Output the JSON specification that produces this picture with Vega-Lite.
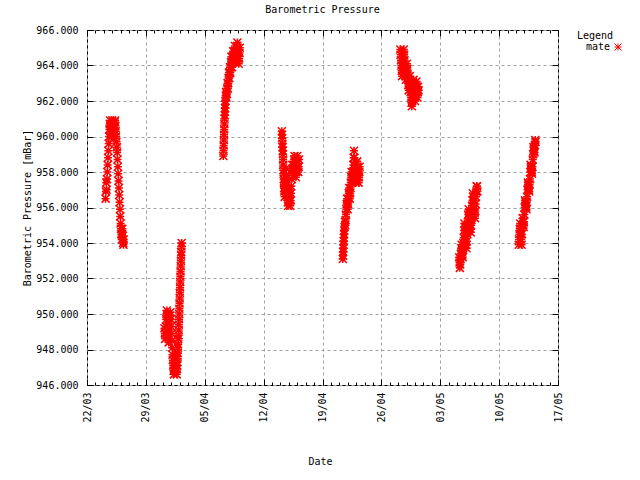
{
  "$schema": "https://vega.github.io/schema/vega-lite/v6.json",
  "width": 471,
  "height": 355,
  "autosize": {"type": "none"},
  "padding": {"left": 87, "top": 30, "right": 82, "bottom": 95},
  "title": {"text": "Barometric Pressure", "font": "DejaVu Sans Mono", "fontSize": 10, "fontWeight": "normal", "color": "black", "offset": 10, "anchor": "middle"},
  "config": {
    "view": {"stroke": "black", "strokeWidth": 1},
    "axis": {"labelFont": "DejaVu Sans Mono", "labelFontSize": 10, "labelColor": "black", "titleFont": "DejaVu Sans Mono", "titleFontSize": 10, "titleFontWeight": "normal", "titleColor": "black", "tickColor": "black", "domain": false}
  },
  "data": {"values": [
    {"date": "2009-03-24T05:00", "pressure": 956.5},
    {"date": "2009-03-24T06:00", "pressure": 956.9},
    {"date": "2009-03-24T07:00", "pressure": 957.4},
    {"date": "2009-03-24T08:00", "pressure": 957.0},
    {"date": "2009-03-24T09:00", "pressure": 957.6},
    {"date": "2009-03-24T10:00", "pressure": 958.0},
    {"date": "2009-03-24T11:00", "pressure": 958.4},
    {"date": "2009-03-24T12:00", "pressure": 958.8},
    {"date": "2009-03-24T13:00", "pressure": 959.2},
    {"date": "2009-03-24T14:00", "pressure": 959.6},
    {"date": "2009-03-24T15:00", "pressure": 960.0},
    {"date": "2009-03-24T16:00", "pressure": 960.4},
    {"date": "2009-03-24T17:00", "pressure": 960.7},
    {"date": "2009-03-24T18:00", "pressure": 960.9},
    {"date": "2009-03-24T19:00", "pressure": 960.6},
    {"date": "2009-03-24T20:00", "pressure": 960.3},
    {"date": "2009-03-24T21:00", "pressure": 960.0},
    {"date": "2009-03-24T22:00", "pressure": 960.3},
    {"date": "2009-03-24T23:00", "pressure": 960.6},
    {"date": "2009-03-25T00:00", "pressure": 960.9},
    {"date": "2009-03-25T01:00", "pressure": 960.7},
    {"date": "2009-03-25T02:00", "pressure": 960.4},
    {"date": "2009-03-25T03:00", "pressure": 960.1},
    {"date": "2009-03-25T04:00", "pressure": 959.9},
    {"date": "2009-03-25T05:00", "pressure": 960.2},
    {"date": "2009-03-25T06:00", "pressure": 960.5},
    {"date": "2009-03-25T07:00", "pressure": 960.8},
    {"date": "2009-03-25T08:00", "pressure": 960.9},
    {"date": "2009-03-25T09:00", "pressure": 960.6},
    {"date": "2009-03-25T10:00", "pressure": 960.3},
    {"date": "2009-03-25T11:00", "pressure": 960.0},
    {"date": "2009-03-25T12:00", "pressure": 959.7},
    {"date": "2009-03-25T13:00", "pressure": 959.4},
    {"date": "2009-03-25T14:00", "pressure": 959.1},
    {"date": "2009-03-25T15:00", "pressure": 958.7},
    {"date": "2009-03-25T16:00", "pressure": 958.3},
    {"date": "2009-03-25T17:00", "pressure": 957.9},
    {"date": "2009-03-25T18:00", "pressure": 957.5},
    {"date": "2009-03-25T19:00", "pressure": 957.1},
    {"date": "2009-03-25T20:00", "pressure": 956.7},
    {"date": "2009-03-25T21:00", "pressure": 956.3},
    {"date": "2009-03-25T22:00", "pressure": 955.9},
    {"date": "2009-03-25T23:00", "pressure": 955.5},
    {"date": "2009-03-26T00:00", "pressure": 955.1},
    {"date": "2009-03-26T01:00", "pressure": 954.8},
    {"date": "2009-03-26T02:00", "pressure": 954.5},
    {"date": "2009-03-26T03:00", "pressure": 954.2},
    {"date": "2009-03-26T04:00", "pressure": 954.5},
    {"date": "2009-03-26T05:00", "pressure": 954.8},
    {"date": "2009-03-26T06:00", "pressure": 954.4},
    {"date": "2009-03-26T07:00", "pressure": 954.0},
    {"date": "2009-03-26T08:00", "pressure": 953.9},
    {"date": "2009-03-26T09:00", "pressure": 954.2},

    {"date": "2009-03-31T05:00", "pressure": 949.2},
    {"date": "2009-03-31T06:00", "pressure": 948.9},
    {"date": "2009-03-31T07:00", "pressure": 948.6},
    {"date": "2009-03-31T08:00", "pressure": 948.9},
    {"date": "2009-03-31T09:00", "pressure": 949.3},
    {"date": "2009-03-31T10:00", "pressure": 949.7},
    {"date": "2009-03-31T11:00", "pressure": 950.0},
    {"date": "2009-03-31T12:00", "pressure": 950.2},
    {"date": "2009-03-31T13:00", "pressure": 949.9},
    {"date": "2009-03-31T14:00", "pressure": 949.5},
    {"date": "2009-03-31T15:00", "pressure": 949.1},
    {"date": "2009-03-31T16:00", "pressure": 948.7},
    {"date": "2009-03-31T17:00", "pressure": 948.4},
    {"date": "2009-03-31T18:00", "pressure": 948.7},
    {"date": "2009-03-31T19:00", "pressure": 949.1},
    {"date": "2009-03-31T20:00", "pressure": 949.5},
    {"date": "2009-03-31T21:00", "pressure": 949.9},
    {"date": "2009-03-31T22:00", "pressure": 950.1},
    {"date": "2009-03-31T23:00", "pressure": 949.7},
    {"date": "2009-04-01T00:00", "pressure": 949.3},
    {"date": "2009-04-01T01:00", "pressure": 948.9},
    {"date": "2009-04-01T02:00", "pressure": 948.5},
    {"date": "2009-04-01T03:00", "pressure": 948.1},
    {"date": "2009-04-01T04:00", "pressure": 947.7},
    {"date": "2009-04-01T05:00", "pressure": 947.4},
    {"date": "2009-04-01T06:00", "pressure": 947.1},
    {"date": "2009-04-01T07:00", "pressure": 946.8},
    {"date": "2009-04-01T08:00", "pressure": 946.6},
    {"date": "2009-04-01T09:00", "pressure": 946.9},
    {"date": "2009-04-01T10:00", "pressure": 947.2},
    {"date": "2009-04-01T11:00", "pressure": 947.5},
    {"date": "2009-04-01T12:00", "pressure": 947.8},
    {"date": "2009-04-01T13:00", "pressure": 947.5},
    {"date": "2009-04-01T14:00", "pressure": 947.2},
    {"date": "2009-04-01T15:00", "pressure": 946.9},
    {"date": "2009-04-01T16:00", "pressure": 946.6},
    {"date": "2009-04-01T17:00", "pressure": 946.9},
    {"date": "2009-04-01T17:30", "pressure": 947.1},
    {"date": "2009-04-01T18:00", "pressure": 947.3},
    {"date": "2009-04-01T18:30", "pressure": 947.6},
    {"date": "2009-04-01T19:00", "pressure": 947.8},
    {"date": "2009-04-01T19:30", "pressure": 948.1},
    {"date": "2009-04-01T20:00", "pressure": 948.3},
    {"date": "2009-04-01T20:30", "pressure": 948.6},
    {"date": "2009-04-01T21:00", "pressure": 948.8},
    {"date": "2009-04-01T21:30", "pressure": 949.1},
    {"date": "2009-04-01T22:00", "pressure": 949.4},
    {"date": "2009-04-01T22:30", "pressure": 949.7},
    {"date": "2009-04-01T23:00", "pressure": 950.0},
    {"date": "2009-04-01T23:30", "pressure": 950.3},
    {"date": "2009-04-02T00:00", "pressure": 950.6},
    {"date": "2009-04-02T00:30", "pressure": 950.9},
    {"date": "2009-04-02T01:00", "pressure": 951.2},
    {"date": "2009-04-02T01:30", "pressure": 951.5},
    {"date": "2009-04-02T02:00", "pressure": 951.8},
    {"date": "2009-04-02T02:30", "pressure": 952.1},
    {"date": "2009-04-02T03:00", "pressure": 952.4},
    {"date": "2009-04-02T03:30", "pressure": 952.7},
    {"date": "2009-04-02T04:00", "pressure": 953.0},
    {"date": "2009-04-02T04:30", "pressure": 953.3},
    {"date": "2009-04-02T05:00", "pressure": 953.5},
    {"date": "2009-04-02T05:30", "pressure": 953.8},
    {"date": "2009-04-02T06:00", "pressure": 954.0},

    {"date": "2009-04-07T05:00", "pressure": 958.9},
    {"date": "2009-04-07T05:30", "pressure": 959.2},
    {"date": "2009-04-07T06:00", "pressure": 959.5},
    {"date": "2009-04-07T06:30", "pressure": 959.8},
    {"date": "2009-04-07T07:00", "pressure": 960.1},
    {"date": "2009-04-07T07:30", "pressure": 960.4},
    {"date": "2009-04-07T08:00", "pressure": 960.7},
    {"date": "2009-04-07T08:30", "pressure": 961.0},
    {"date": "2009-04-07T09:00", "pressure": 961.2},
    {"date": "2009-04-07T09:30", "pressure": 961.4},
    {"date": "2009-04-07T10:00", "pressure": 961.6},
    {"date": "2009-04-07T10:30", "pressure": 961.8},
    {"date": "2009-04-07T11:00", "pressure": 962.0},
    {"date": "2009-04-07T12:00", "pressure": 962.3},
    {"date": "2009-04-07T13:00", "pressure": 962.5},
    {"date": "2009-04-07T14:00", "pressure": 962.2},
    {"date": "2009-04-07T15:00", "pressure": 962.4},
    {"date": "2009-04-07T16:00", "pressure": 962.7},
    {"date": "2009-04-07T17:00", "pressure": 963.0},
    {"date": "2009-04-07T18:00", "pressure": 962.7},
    {"date": "2009-04-07T19:00", "pressure": 963.0},
    {"date": "2009-04-07T20:00", "pressure": 963.3},
    {"date": "2009-04-07T21:00", "pressure": 963.6},
    {"date": "2009-04-07T22:00", "pressure": 963.3},
    {"date": "2009-04-07T23:00", "pressure": 963.6},
    {"date": "2009-04-08T00:00", "pressure": 963.9},
    {"date": "2009-04-08T01:00", "pressure": 963.6},
    {"date": "2009-04-08T02:00", "pressure": 963.9},
    {"date": "2009-04-08T03:00", "pressure": 964.2},
    {"date": "2009-04-08T04:00", "pressure": 964.5},
    {"date": "2009-04-08T05:00", "pressure": 964.2},
    {"date": "2009-04-08T06:00", "pressure": 963.9},
    {"date": "2009-04-08T07:00", "pressure": 964.2},
    {"date": "2009-04-08T08:00", "pressure": 964.5},
    {"date": "2009-04-08T09:00", "pressure": 964.8},
    {"date": "2009-04-08T10:00", "pressure": 964.5},
    {"date": "2009-04-08T11:00", "pressure": 964.2},
    {"date": "2009-04-08T12:00", "pressure": 964.5},
    {"date": "2009-04-08T13:00", "pressure": 964.8},
    {"date": "2009-04-08T14:00", "pressure": 965.1},
    {"date": "2009-04-08T15:00", "pressure": 964.8},
    {"date": "2009-04-08T16:00", "pressure": 964.5},
    {"date": "2009-04-08T17:00", "pressure": 964.2},
    {"date": "2009-04-08T18:00", "pressure": 964.5},
    {"date": "2009-04-08T19:00", "pressure": 964.8},
    {"date": "2009-04-08T20:00", "pressure": 965.1},
    {"date": "2009-04-08T21:00", "pressure": 965.3},
    {"date": "2009-04-08T22:00", "pressure": 965.0},
    {"date": "2009-04-08T23:00", "pressure": 964.7},
    {"date": "2009-04-09T00:00", "pressure": 964.4},
    {"date": "2009-04-09T01:00", "pressure": 964.1},
    {"date": "2009-04-09T02:00", "pressure": 964.4},
    {"date": "2009-04-09T03:00", "pressure": 964.7},
    {"date": "2009-04-09T04:00", "pressure": 965.0},

    {"date": "2009-04-14T04:00", "pressure": 960.3},
    {"date": "2009-04-14T04:30", "pressure": 960.1},
    {"date": "2009-04-14T05:00", "pressure": 959.9},
    {"date": "2009-04-14T05:30", "pressure": 959.6},
    {"date": "2009-04-14T06:00", "pressure": 959.4},
    {"date": "2009-04-14T06:30", "pressure": 959.2},
    {"date": "2009-04-14T07:00", "pressure": 959.0},
    {"date": "2009-04-14T07:30", "pressure": 958.7},
    {"date": "2009-04-14T08:00", "pressure": 958.4},
    {"date": "2009-04-14T08:30", "pressure": 958.1},
    {"date": "2009-04-14T09:00", "pressure": 957.9},
    {"date": "2009-04-14T09:30", "pressure": 957.6},
    {"date": "2009-04-14T10:00", "pressure": 957.4},
    {"date": "2009-04-14T10:30", "pressure": 957.1},
    {"date": "2009-04-14T11:00", "pressure": 956.9},
    {"date": "2009-04-14T12:00", "pressure": 956.6},
    {"date": "2009-04-14T13:00", "pressure": 957.0},
    {"date": "2009-04-14T14:00", "pressure": 957.4},
    {"date": "2009-04-14T15:00", "pressure": 957.8},
    {"date": "2009-04-14T16:00", "pressure": 958.2},
    {"date": "2009-04-14T17:00", "pressure": 957.8},
    {"date": "2009-04-14T18:00", "pressure": 957.4},
    {"date": "2009-04-14T19:00", "pressure": 957.0},
    {"date": "2009-04-14T20:00", "pressure": 956.6},
    {"date": "2009-04-14T21:00", "pressure": 956.3},
    {"date": "2009-04-14T22:00", "pressure": 956.1},
    {"date": "2009-04-14T23:00", "pressure": 956.4},
    {"date": "2009-04-15T00:00", "pressure": 956.7},
    {"date": "2009-04-15T01:00", "pressure": 957.0},
    {"date": "2009-04-15T02:00", "pressure": 956.7},
    {"date": "2009-04-15T03:00", "pressure": 956.4},
    {"date": "2009-04-15T04:00", "pressure": 956.1},
    {"date": "2009-04-15T05:00", "pressure": 956.4},
    {"date": "2009-04-15T06:00", "pressure": 956.8},
    {"date": "2009-04-15T07:00", "pressure": 957.2},
    {"date": "2009-04-15T08:00", "pressure": 957.6},
    {"date": "2009-04-15T09:00", "pressure": 958.0},
    {"date": "2009-04-15T10:00", "pressure": 958.4},
    {"date": "2009-04-15T11:00", "pressure": 958.1},
    {"date": "2009-04-15T12:00", "pressure": 957.8},
    {"date": "2009-04-15T13:00", "pressure": 958.1},
    {"date": "2009-04-15T14:00", "pressure": 958.4},
    {"date": "2009-04-15T15:00", "pressure": 958.7},
    {"date": "2009-04-15T16:00", "pressure": 958.9},
    {"date": "2009-04-15T17:00", "pressure": 958.6},
    {"date": "2009-04-15T18:00", "pressure": 958.3},
    {"date": "2009-04-15T19:00", "pressure": 958.0},
    {"date": "2009-04-15T20:00", "pressure": 957.7},
    {"date": "2009-04-15T21:00", "pressure": 958.0},
    {"date": "2009-04-15T22:00", "pressure": 958.3},
    {"date": "2009-04-15T23:00", "pressure": 958.6},
    {"date": "2009-04-16T00:00", "pressure": 958.9},
    {"date": "2009-04-16T01:00", "pressure": 958.6},
    {"date": "2009-04-16T02:00", "pressure": 958.3},
    {"date": "2009-04-16T03:00", "pressure": 958.0},
    {"date": "2009-04-16T04:00", "pressure": 958.3},
    {"date": "2009-04-16T05:00", "pressure": 958.7},

    {"date": "2009-04-21T10:00", "pressure": 953.1},
    {"date": "2009-04-21T10:30", "pressure": 953.3},
    {"date": "2009-04-21T11:00", "pressure": 953.5},
    {"date": "2009-04-21T11:30", "pressure": 953.7},
    {"date": "2009-04-21T12:00", "pressure": 953.9},
    {"date": "2009-04-21T12:30", "pressure": 954.1},
    {"date": "2009-04-21T13:00", "pressure": 954.3},
    {"date": "2009-04-21T13:30", "pressure": 954.5},
    {"date": "2009-04-21T14:00", "pressure": 954.7},
    {"date": "2009-04-21T15:00", "pressure": 954.9},
    {"date": "2009-04-21T16:00", "pressure": 955.2},
    {"date": "2009-04-21T17:00", "pressure": 955.0},
    {"date": "2009-04-21T18:00", "pressure": 955.3},
    {"date": "2009-04-21T19:00", "pressure": 955.6},
    {"date": "2009-04-21T20:00", "pressure": 955.9},
    {"date": "2009-04-21T21:00", "pressure": 956.2},
    {"date": "2009-04-21T22:00", "pressure": 956.5},
    {"date": "2009-04-21T23:00", "pressure": 956.2},
    {"date": "2009-04-22T00:00", "pressure": 955.9},
    {"date": "2009-04-22T01:00", "pressure": 956.2},
    {"date": "2009-04-22T02:00", "pressure": 956.5},
    {"date": "2009-04-22T03:00", "pressure": 956.8},
    {"date": "2009-04-22T04:00", "pressure": 957.1},
    {"date": "2009-04-22T05:00", "pressure": 956.8},
    {"date": "2009-04-22T06:00", "pressure": 956.5},
    {"date": "2009-04-22T07:00", "pressure": 956.8},
    {"date": "2009-04-22T08:00", "pressure": 957.1},
    {"date": "2009-04-22T09:00", "pressure": 957.4},
    {"date": "2009-04-22T10:00", "pressure": 957.7},
    {"date": "2009-04-22T11:00", "pressure": 958.0},
    {"date": "2009-04-22T12:00", "pressure": 957.7},
    {"date": "2009-04-22T13:00", "pressure": 957.4},
    {"date": "2009-04-22T14:00", "pressure": 957.7},
    {"date": "2009-04-22T15:00", "pressure": 958.0},
    {"date": "2009-04-22T16:00", "pressure": 958.4},
    {"date": "2009-04-22T17:00", "pressure": 958.8},
    {"date": "2009-04-22T18:00", "pressure": 959.2},
    {"date": "2009-04-22T19:00", "pressure": 958.8},
    {"date": "2009-04-22T20:00", "pressure": 958.4},
    {"date": "2009-04-22T21:00", "pressure": 958.0},
    {"date": "2009-04-22T22:00", "pressure": 957.6},
    {"date": "2009-04-22T23:00", "pressure": 957.4},
    {"date": "2009-04-23T00:00", "pressure": 957.7},
    {"date": "2009-04-23T01:00", "pressure": 958.0},
    {"date": "2009-04-23T02:00", "pressure": 958.3},
    {"date": "2009-04-23T03:00", "pressure": 958.6},
    {"date": "2009-04-23T04:00", "pressure": 958.3},
    {"date": "2009-04-23T05:00", "pressure": 958.0},
    {"date": "2009-04-23T06:00", "pressure": 957.7},
    {"date": "2009-04-23T07:00", "pressure": 957.4},
    {"date": "2009-04-23T08:00", "pressure": 957.7},
    {"date": "2009-04-23T09:00", "pressure": 958.0},
    {"date": "2009-04-23T10:00", "pressure": 958.3},

    {"date": "2009-04-28T06:00", "pressure": 964.9},
    {"date": "2009-04-28T07:00", "pressure": 964.6},
    {"date": "2009-04-28T08:00", "pressure": 964.3},
    {"date": "2009-04-28T09:00", "pressure": 964.0},
    {"date": "2009-04-28T10:00", "pressure": 963.7},
    {"date": "2009-04-28T11:00", "pressure": 963.4},
    {"date": "2009-04-28T12:00", "pressure": 963.7},
    {"date": "2009-04-28T13:00", "pressure": 964.0},
    {"date": "2009-04-28T14:00", "pressure": 964.3},
    {"date": "2009-04-28T15:00", "pressure": 964.6},
    {"date": "2009-04-28T16:00", "pressure": 964.9},
    {"date": "2009-04-28T17:00", "pressure": 964.6},
    {"date": "2009-04-28T18:00", "pressure": 964.3},
    {"date": "2009-04-28T19:00", "pressure": 964.0},
    {"date": "2009-04-28T20:00", "pressure": 963.7},
    {"date": "2009-04-28T21:00", "pressure": 963.4},
    {"date": "2009-04-28T22:00", "pressure": 963.2},
    {"date": "2009-04-28T23:00", "pressure": 963.5},
    {"date": "2009-04-29T00:00", "pressure": 963.8},
    {"date": "2009-04-29T01:00", "pressure": 964.1},
    {"date": "2009-04-29T02:00", "pressure": 963.8},
    {"date": "2009-04-29T03:00", "pressure": 963.5},
    {"date": "2009-04-29T04:00", "pressure": 963.2},
    {"date": "2009-04-29T05:00", "pressure": 962.9},
    {"date": "2009-04-29T06:00", "pressure": 962.6},
    {"date": "2009-04-29T07:00", "pressure": 962.9},
    {"date": "2009-04-29T08:00", "pressure": 963.2},
    {"date": "2009-04-29T09:00", "pressure": 963.4},
    {"date": "2009-04-29T10:00", "pressure": 963.1},
    {"date": "2009-04-29T11:00", "pressure": 962.8},
    {"date": "2009-04-29T12:00", "pressure": 962.5},
    {"date": "2009-04-29T13:00", "pressure": 962.2},
    {"date": "2009-04-29T14:00", "pressure": 961.9},
    {"date": "2009-04-29T15:00", "pressure": 961.7},
    {"date": "2009-04-29T16:00", "pressure": 962.0},
    {"date": "2009-04-29T17:00", "pressure": 962.3},
    {"date": "2009-04-29T18:00", "pressure": 962.6},
    {"date": "2009-04-29T19:00", "pressure": 962.9},
    {"date": "2009-04-29T20:00", "pressure": 963.2},
    {"date": "2009-04-29T21:00", "pressure": 962.9},
    {"date": "2009-04-29T22:00", "pressure": 962.6},
    {"date": "2009-04-29T23:00", "pressure": 962.3},
    {"date": "2009-04-30T00:00", "pressure": 962.0},
    {"date": "2009-04-30T01:00", "pressure": 962.3},
    {"date": "2009-04-30T02:00", "pressure": 962.6},
    {"date": "2009-04-30T03:00", "pressure": 962.9},
    {"date": "2009-04-30T04:00", "pressure": 963.1},
    {"date": "2009-04-30T05:00", "pressure": 962.8},
    {"date": "2009-04-30T06:00", "pressure": 962.5},
    {"date": "2009-04-30T07:00", "pressure": 962.2},
    {"date": "2009-04-30T08:00", "pressure": 962.5},
    {"date": "2009-04-30T09:00", "pressure": 962.8},
    {"date": "2009-04-30T10:00", "pressure": 962.6},

    {"date": "2009-05-05T06:00", "pressure": 953.2},
    {"date": "2009-05-05T07:00", "pressure": 952.9},
    {"date": "2009-05-05T08:00", "pressure": 952.6},
    {"date": "2009-05-05T09:00", "pressure": 952.8},
    {"date": "2009-05-05T10:00", "pressure": 953.1},
    {"date": "2009-05-05T11:00", "pressure": 953.4},
    {"date": "2009-05-05T12:00", "pressure": 953.7},
    {"date": "2009-05-05T13:00", "pressure": 953.9},
    {"date": "2009-05-05T14:00", "pressure": 953.6},
    {"date": "2009-05-05T15:00", "pressure": 953.3},
    {"date": "2009-05-05T16:00", "pressure": 953.2},
    {"date": "2009-05-05T17:00", "pressure": 953.6},
    {"date": "2009-05-05T18:00", "pressure": 954.0},
    {"date": "2009-05-05T19:00", "pressure": 954.3},
    {"date": "2009-05-05T20:00", "pressure": 954.7},
    {"date": "2009-05-05T21:00", "pressure": 955.1},
    {"date": "2009-05-05T22:00", "pressure": 954.9},
    {"date": "2009-05-05T23:00", "pressure": 954.6},
    {"date": "2009-05-06T00:00", "pressure": 954.4},
    {"date": "2009-05-06T01:00", "pressure": 954.2},
    {"date": "2009-05-06T02:00", "pressure": 953.9},
    {"date": "2009-05-06T03:00", "pressure": 953.7},
    {"date": "2009-05-06T04:00", "pressure": 954.1},
    {"date": "2009-05-06T05:00", "pressure": 954.5},
    {"date": "2009-05-06T06:00", "pressure": 954.8},
    {"date": "2009-05-06T07:00", "pressure": 955.2},
    {"date": "2009-05-06T08:00", "pressure": 955.6},
    {"date": "2009-05-06T09:00", "pressure": 955.9},
    {"date": "2009-05-06T10:00", "pressure": 955.7},
    {"date": "2009-05-06T11:00", "pressure": 955.5},
    {"date": "2009-05-06T12:00", "pressure": 955.3},
    {"date": "2009-05-06T13:00", "pressure": 955.0},
    {"date": "2009-05-06T14:00", "pressure": 954.8},
    {"date": "2009-05-06T15:00", "pressure": 954.6},
    {"date": "2009-05-06T16:00", "pressure": 955.0},
    {"date": "2009-05-06T17:00", "pressure": 955.3},
    {"date": "2009-05-06T18:00", "pressure": 955.7},
    {"date": "2009-05-06T19:00", "pressure": 956.1},
    {"date": "2009-05-06T20:00", "pressure": 956.4},
    {"date": "2009-05-06T21:00", "pressure": 956.8},
    {"date": "2009-05-06T22:00", "pressure": 956.6},
    {"date": "2009-05-06T23:00", "pressure": 956.4},
    {"date": "2009-05-07T00:00", "pressure": 956.1},
    {"date": "2009-05-07T01:00", "pressure": 955.9},
    {"date": "2009-05-07T02:00", "pressure": 955.7},
    {"date": "2009-05-07T03:00", "pressure": 955.4},
    {"date": "2009-05-07T04:00", "pressure": 955.8},
    {"date": "2009-05-07T05:00", "pressure": 956.2},
    {"date": "2009-05-07T06:00", "pressure": 956.6},
    {"date": "2009-05-07T07:00", "pressure": 956.9},
    {"date": "2009-05-07T08:00", "pressure": 957.2},
    {"date": "2009-05-07T09:00", "pressure": 957.2},
    {"date": "2009-05-07T10:00", "pressure": 956.9},

    {"date": "2009-05-12T08:00", "pressure": 953.9},
    {"date": "2009-05-12T09:00", "pressure": 954.2},
    {"date": "2009-05-12T10:00", "pressure": 954.5},
    {"date": "2009-05-12T11:00", "pressure": 954.8},
    {"date": "2009-05-12T12:00", "pressure": 955.1},
    {"date": "2009-05-12T13:00", "pressure": 954.8},
    {"date": "2009-05-12T14:00", "pressure": 954.5},
    {"date": "2009-05-12T15:00", "pressure": 954.2},
    {"date": "2009-05-12T16:00", "pressure": 953.9},
    {"date": "2009-05-12T17:00", "pressure": 954.5},
    {"date": "2009-05-12T18:00", "pressure": 955.0},
    {"date": "2009-05-12T19:00", "pressure": 955.4},
    {"date": "2009-05-12T20:00", "pressure": 955.2},
    {"date": "2009-05-12T21:00", "pressure": 955.0},
    {"date": "2009-05-12T22:00", "pressure": 954.9},
    {"date": "2009-05-12T23:00", "pressure": 955.2},
    {"date": "2009-05-13T00:00", "pressure": 955.6},
    {"date": "2009-05-13T01:00", "pressure": 956.0},
    {"date": "2009-05-13T02:00", "pressure": 956.4},
    {"date": "2009-05-13T03:00", "pressure": 956.3},
    {"date": "2009-05-13T04:00", "pressure": 956.1},
    {"date": "2009-05-13T05:00", "pressure": 956.0},
    {"date": "2009-05-13T06:00", "pressure": 955.9},
    {"date": "2009-05-13T07:00", "pressure": 956.3},
    {"date": "2009-05-13T08:00", "pressure": 956.6},
    {"date": "2009-05-13T09:00", "pressure": 957.0},
    {"date": "2009-05-13T10:00", "pressure": 957.4},
    {"date": "2009-05-13T11:00", "pressure": 957.3},
    {"date": "2009-05-13T12:00", "pressure": 957.1},
    {"date": "2009-05-13T13:00", "pressure": 957.0},
    {"date": "2009-05-13T14:00", "pressure": 956.9},
    {"date": "2009-05-13T15:00", "pressure": 957.3},
    {"date": "2009-05-13T16:00", "pressure": 957.6},
    {"date": "2009-05-13T17:00", "pressure": 958.0},
    {"date": "2009-05-13T18:00", "pressure": 958.4},
    {"date": "2009-05-13T19:00", "pressure": 958.3},
    {"date": "2009-05-13T20:00", "pressure": 958.2},
    {"date": "2009-05-13T21:00", "pressure": 958.0},
    {"date": "2009-05-13T22:00", "pressure": 957.9},
    {"date": "2009-05-13T23:00", "pressure": 958.3},
    {"date": "2009-05-14T00:00", "pressure": 958.7},
    {"date": "2009-05-14T01:00", "pressure": 959.0},
    {"date": "2009-05-14T02:00", "pressure": 959.4},
    {"date": "2009-05-14T03:00", "pressure": 959.3},
    {"date": "2009-05-14T04:00", "pressure": 959.2},
    {"date": "2009-05-14T05:00", "pressure": 959.1},
    {"date": "2009-05-14T06:00", "pressure": 959.5},
    {"date": "2009-05-14T07:00", "pressure": 959.8},
    {"date": "2009-05-14T08:00", "pressure": 959.7}
  ]},
  "layer": [
    {
      "mark": {"type": "point", "shape": "M-1,0L1,0M0,-1L0,1M-1,-1L1,1M-1,1L1,-1", "size": 64, "filled": false, "strokeWidth": 1.5, "opacity": 1},
      "encoding": {
        "x": {"field": "date", "type": "temporal",
          "scale": {"domain": [{"year": 2009, "month": "mar", "date": 22}, {"year": 2009, "month": "may", "date": 17}], "nice": false},
          "axis": {"orient": "bottom", "format": "%d/%m", "labelAngle": 270, "tickCount": {"interval": "week"}, "grid": true, "gridColor": "#a0a0a0", "gridDash": [3, 3], "gridOpacity": 1, "tickSize": -6, "labelPadding": 13, "title": "Date", "titleX": 233, "titleY": 76, "titleBaseline": "middle", "titleAlign": "center"}},
        "y": {"field": "pressure", "type": "quantitative",
          "scale": {"domain": [946, 966], "nice": false, "zero": false},
          "axis": {"orient": "left", "values": [946, 948, 950, 952, 954, 956, 958, 960, 962, 964, 966], "format": ".3f", "grid": true, "gridColor": "#a0a0a0", "gridDash": [3, 3], "gridOpacity": 1, "tickSize": -6, "labelPadding": 15, "title": "Barometric Pressure [mBar]", "titleX": -60, "titleY": 177.5, "titleAngle": 270, "titleBaseline": "middle", "titleAlign": "center"}},
        "color": {"datum": "mate", "type": "nominal", "scale": {"range": ["#ff0000"]},
          "legend": {"title": "Legend", "orient": "none", "legendX": 490, "legendY": 1, "padding": 0, "titleFont": "DejaVu Sans Mono", "titleFontSize": 10, "titleFontWeight": "normal", "titleColor": "black", "titleAlign": "right", "titleAnchor": "start", "titlePadding": 1, "labelFont": "DejaVu Sans Mono", "labelFontSize": 10, "labelColor": "black", "labelAlign": "right", "labelOffset": -13, "symbolType": "M-1,0L1,0M0,-1L0,1M-1,-1L1,1M-1,1L1,-1", "symbolSize": 49, "symbolStrokeWidth": 1, "symbolStrokeColor": "#ff0000", "symbolFillColor": "transparent"}}
      }
    },
    {
      "mark": {"type": "point", "opacity": 0},
      "encoding": {
        "x": {"field": "date", "type": "temporal", "axis": {"orient": "bottom", "tickCount": {"interval": "day"}, "labels": false, "grid": false, "tickSize": -3, "title": null}},
        "y": {"field": "pressure", "type": "quantitative", "axis": {"orient": "right", "values": [946, 948, 950, 952, 954, 956, 958, 960, 962, 964, 966], "labels": false, "grid": false, "tickSize": -6, "title": null}}
      }
    },
    {
      "mark": {"type": "point", "opacity": 0},
      "encoding": {
        "x": {"field": "date", "type": "temporal", "axis": {"orient": "top", "tickCount": {"interval": "week"}, "labels": false, "grid": false, "tickSize": -6, "title": null}},
        "y": {"field": "pressure", "type": "quantitative", "axis": null}
      }
    },
    {
      "mark": {"type": "point", "opacity": 0},
      "encoding": {
        "x": {"field": "date", "type": "temporal", "axis": {"orient": "top", "tickCount": {"interval": "day"}, "labels": false, "grid": false, "tickSize": -3, "title": null}},
        "y": {"field": "pressure", "type": "quantitative", "axis": null}
      }
    }
  ],
  "resolve": {"axis": {"x": "independent", "y": "independent"}}
}
